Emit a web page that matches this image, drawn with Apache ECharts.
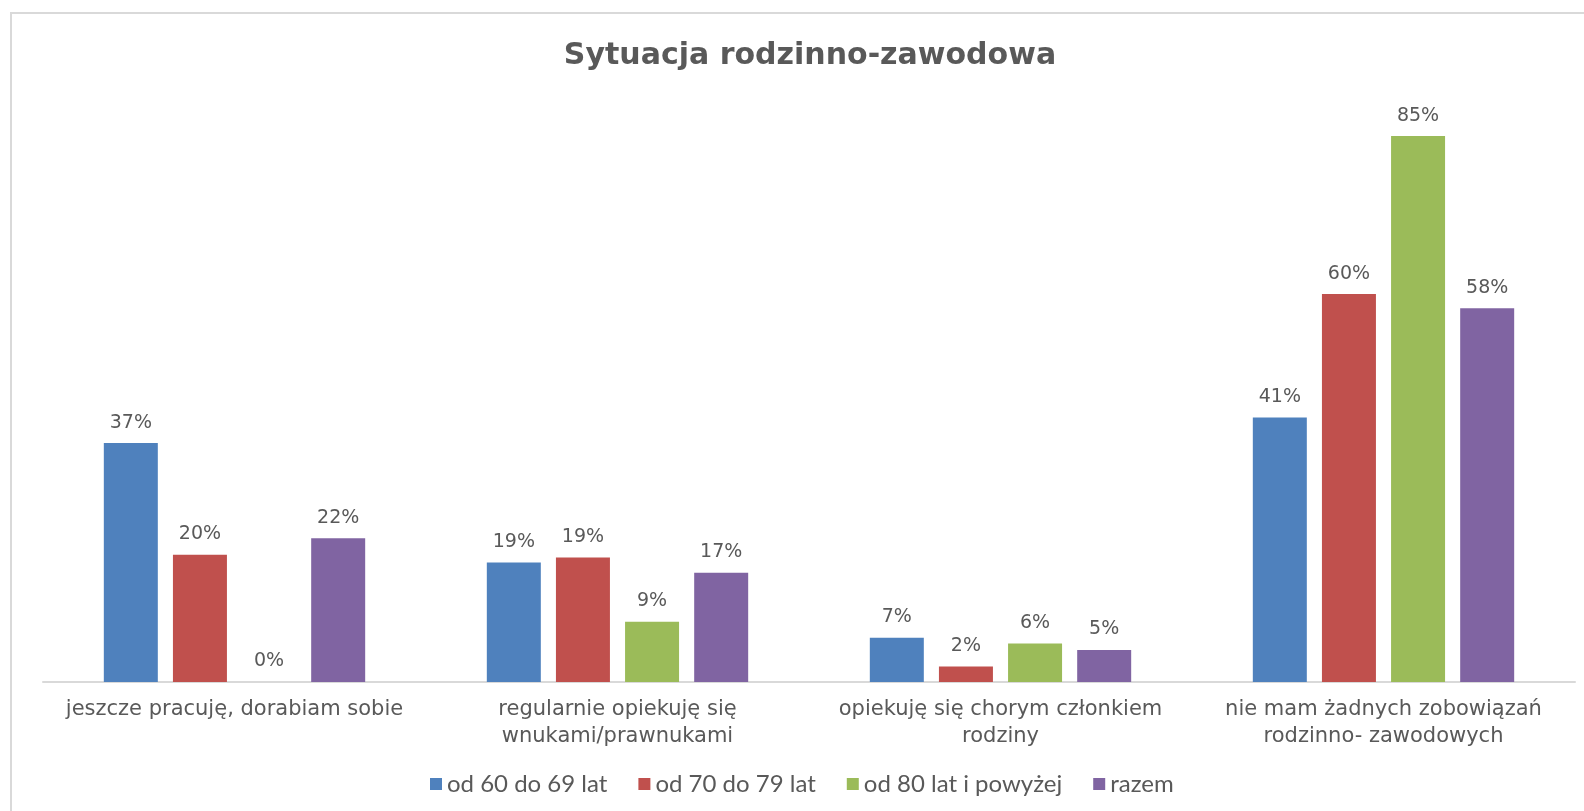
<!DOCTYPE html>
<html>
<head>
<meta charset="utf-8">
<script src="https://cdn.jsdelivr.net/npm/echarts@6/dist/echarts.min.js"></script>
<style>
  html, body { margin: 0; padding: 0; background: #fff; }
  #chart { width: 1584px; height: 811px; }
</style>
</head>
<body>
<div id="chart"></div>
<script>
const categories = [
  "jeszcze pracuję, dorabiam sobie",
  "regularnie opiekuję się\nwnukami/prawnukami",
  "opiekuję się chorym członkiem\nrodziny",
  "nie mam żadnych zobowiązań\nrodzinno- zawodowych"
];
const seriesNames = ["od 60 do 69 lat", "od 70 do 79 lat", "od 80 lat i powyżej", "razem"];
const age60 = [0.372, 0.186, 0.069, 0.412];
const age70 = [0.198, 0.194, 0.024, 0.604];
const age80 = [0, 0.094, 0.06, 0.85];
const total = [0.224, 0.17, 0.05, 0.582];
const colors = ["#4F81BD", "#C0504D", "#9BBB59", "#8064A2"];

const textColor = "#595959";
const font = "'DejaVu Sans', sans-serif";

const chart = echarts.init(document.getElementById("chart"));

const makeSeries = (name, data) => ({
  name: name,
  type: "bar",
  data: data,
  barWidth: 54,
  barGap: "28%",
  label: {
    show: true,
    position: "top",
    distance: 11,
    color: textColor,
    fontFamily: font,
    fontSize: 19,
    formatter: p => Math.round(p.value * 100) + "%"
  }
});

const option = {
  color: colors,
  animation: false,
  title: {
    text: "Sytuacja rodzinno-zawodowa",
    left: 805,
    textAlign: "center",
    top: 36,
    textStyle: {
      color: textColor,
      fontFamily: font,
      fontWeight: "bold",
      fontSize: 30
    }
  },
  legend: {
    left: 425,
    top: 767,
    itemWidth: 12,
    itemHeight: 12,
    itemGap: 31,
    icon: "rect",
    textStyle: {
      color: textColor,
      fontFamily: "'Lato', sans-serif",
      fontSize: 24
    },
    data: seriesNames
  },
  grid: {
    left: 43,
    right: 9,
    top: 104,
    bottom: 129,
    containLabel: false
  },
  xAxis: {
    type: "category",
    data: categories,
    axisLine: { lineStyle: { color: "#D9D9D9", width: 2 } },
    axisTick: { show: false },
    axisLabel: {
      color: textColor,
      fontFamily: font,
      fontSize: 21,
      lineHeight: 27,
      margin: 14,
      interval: 0
    }
  },
  yAxis: {
    type: "value",
    min: 0,
    max: 0.9,
    show: false
  },
  graphic: [{
    type: "rect",
    shape: { x: 11, y: 13, width: 1600, height: 900 },
    style: { fill: "none", stroke: "#D9D9D9", lineWidth: 2 },
    silent: true
  }],
  series: [
    makeSeries(seriesNames[0], age60),
    makeSeries(seriesNames[1], age70),
    makeSeries(seriesNames[2], age80),
    makeSeries(seriesNames[3], total)
  ]
};

chart.setOption(option);
</script>
</body>
</html>
